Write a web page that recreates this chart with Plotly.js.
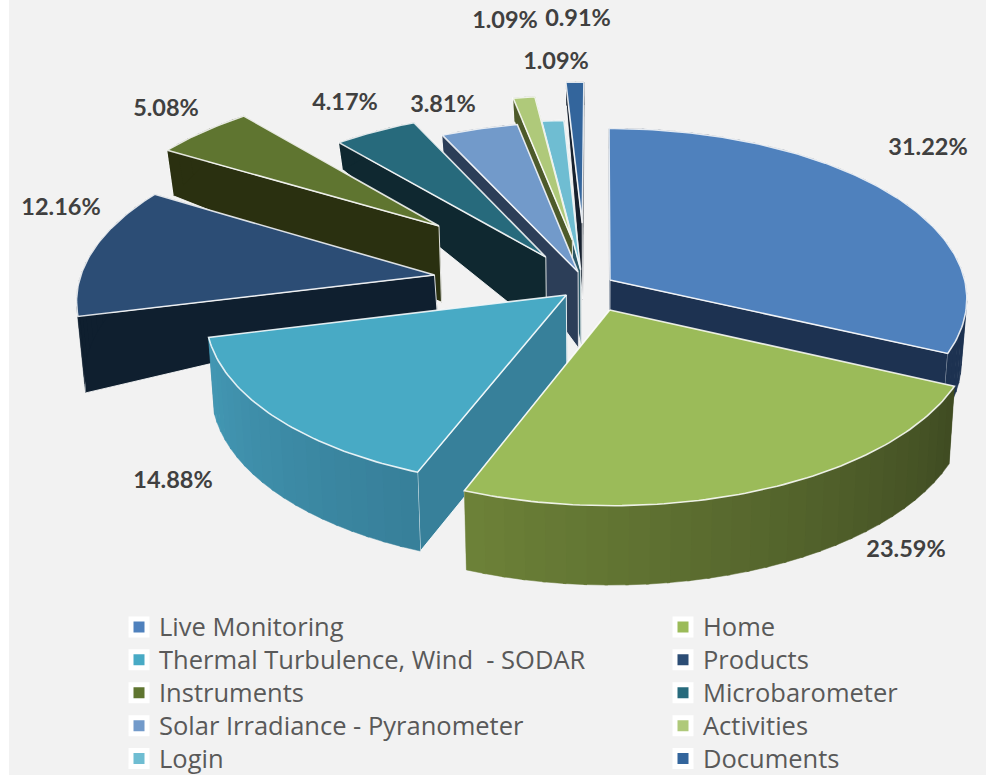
<!DOCTYPE html>
<html><head><meta charset="utf-8">
<script src="https://cdn.plot.ly/plotly-3.0.1.min.js"></script>
<style>html,body{margin:0;padding:0;background:#fff;overflow:hidden}#c{width:986px;height:775px}</style>
</head><body><div id="c"></div>
<script>
// ---- data ----
const categories = ["Live Monitoring","Home","Thermal Turbulence, Wind  - SODAR","Products","Instruments","Microbarometer","Solar Irradiance - Pyranometer","Activities","Login","Documents"];
const shares = [31.22,23.59,14.88,12.16,5.08,4.17,3.81,1.09,1.09,0.91];
const shareLabels = ["31.22%","23.59%","14.88%","12.16%","5.08%","4.17%","3.81%","1.09%","1.09%","0.91%"];

// ---- styling ----
const topColors  = ["#4f81bd","#9bbb59","#48aac5","#2c4d75","#5f7530","#276a7c","#729aca","#afc97a","#6fbdd2","#33659c"];
const wallColors = ["#1d3251","#3f4b22","#37809a","#0f1f2f","#2a3010","#0f2830","#2c3e58","#4d5a2a","#2c5a68","#16202e"];
const rimStart   = ["#1d3251","#3f4b22","#377f99","#0f1f2f","#2a3010","#0f2830","#2c3e58","#4d5a2a","#2c5a68","#16202e"];
const rimEnd     = ["#1d3251","#6d8238","#4398b4","#0f1f2f","#2a3010","#0f2830","#2c3e58","#4d5a2a","#2c5a68","#16202e"];
// ---- explosion of each slice in the pie's own plane, and wall scaling ----
const explodeX = [0.028,0.027,-0.094,-0.468,-0.47,-0.155,-0.062,-0.08,-0.055,-0.052];
const explodeY = [0.059,-0.116,-0.029,0.089,0.392,0.198,0.107,0.304,0.12,0.41];
const wallRim  = [0.83,1,1,1,1,0.7,1,1,1,1];
const wallApex = [1,1,1,0.47,1,1,1,1,1,1];
const drawOrder = [9,8,7,6,5,4,3,0,2,1];
// ---- label placement ----
const labelX = [928,906,173,61,166,345,443,505,556,578];
const labelY = [149,551,482,209,110,104,106,22,63,20];
// ---- view ----
const cx=600, cy=290, rx=357, ry=170, persp=0.108;

function project(X,Y){const w=1/(1+persp*Y);return [cx+X*rx*w, cy-Y*ry*w];}
function depth(Y){const u=Math.max(0,Y-0.4);return Math.max(23,76-120*u*u)+3*Math.max(0,-Y);}
function drop(X,Y,s){const p=project(X,Y);return [cx+(p[0]-cx)*0.985,p[1]+depth(Y)*s];}
function hex(c){return [1,3,5].map(i=>parseInt(c.substr(i,2),16));}
function mix(a,b,t){const A=hex(a),B=hex(b);return "rgb("+A.map((v,i)=>Math.round(v+(B[i]-v)*t)).join(",")+")";}
function poly(pts,fill,line,lw){return {type:"scatter",mode:"lines",x:pts.map(p=>p[0]),y:pts.map(p=>p[1]),fill:"toself",fillcolor:fill,
  line:{color:line||fill,width:line?(lw||1):0.5},showlegend:false,hoverinfo:"skip"};}

const total=shares.reduce((a,b)=>a+b,0);
let acc=0;const startA=[],endA=[];
shares.forEach(v=>{startA.push(acc/total*2*Math.PI);acc+=v;endA.push(acc/total*2*Math.PI);});

const traces=[];
const EDGE="rgba(255,255,255,0.85)";
drawOrder.forEach(i=>{
  const ox=explodeX[i],oy=explodeY[i],a0=startA[i],a1=endA[i];
  const P=t=>[ox+Math.sin(t),oy+Math.cos(t)];
  const wall=(t)=>{const r=P(t);return [project(ox,oy),project(r[0],r[1]),drop(r[0],r[1],wallRim[i]),drop(ox,oy,wallApex[i]),project(ox,oy)];};
  // the radial wall nearer the back first, so the nearer one hides it
  const walls=[a0,a1].sort((p,q)=>P(q)[1]-P(p)[1]);
  traces.push(poly(wall(walls[0]),wallColors[i]));
  traces.push(poly(wall(walls[1]),wallColors[i],EDGE,1));
  const n=Math.max(2,Math.ceil((a1-a0)/(Math.PI/60)));
  for(let k=0;k<n;k++){
    const t0=a0+(a1-a0)*k/n,t1=a0+(a1-a0)*(k+1.15)/n;const r0=P(t0),r1=P(Math.min(t1,a1));
    traces.push(poly([project(r0[0],r0[1]),project(r1[0],r1[1]),drop(r1[0],r1[1],wallRim[i]),drop(r0[0],r0[1],wallRim[i])],mix(rimStart[i],rimEnd[i],(k+0.5)/n)));
  }
  const top=[project(ox,oy)];
  for(let k=0;k<=n*3;k++){const r=P(a0+(a1-a0)*k/(n*3));top.push(project(r[0],r[1]));}
  top.push(project(ox,oy));
  traces.push(poly(top,topColors[i],EDGE,1.6));
});
// legend entries: two columns, one legend each
categories.forEach((c,i)=>traces.push({type:"scatter",mode:"markers",x:[null],y:[null],
  name:'<span style="font-size:25.5px">'+c+'</span>',legend:i%2?"legend2":"legend",
  marker:{symbol:"square",size:16,color:topColors[i],line:{color:"#ffffff",width:5}},hoverinfo:"skip",showlegend:true}));
// percentage labels
traces.push({type:"scatter",mode:"text",x:labelX,y:labelY,text:shareLabels,textposition:"middle center",
  textfont:{family:"Lato, 'Open Sans', sans-serif",size:23.5,color:"#404040",weight:700},showlegend:false,hoverinfo:"skip"});

const legendFont={family:"'Open Sans', sans-serif",size:23,color:"#595959"};
const layout={width:986,height:775,margin:{l:0,r:0,t:0,b:0,autoexpand:false},paper_bgcolor:"#ffffff",plot_bgcolor:"#f2f2f2",
  xaxis:{range:[0,986],visible:false,fixedrange:true},
  yaxis:{range:[775,0],visible:false,fixedrange:true},
  shapes:[{type:"rect",xref:"x",yref:"y",x0:0,x1:9,y0:0,y1:775,fillcolor:"#ffffff",line:{width:0},layer:"below"}],
  legend:{x:119/986,xanchor:"left",y:1-605.5/775,yanchor:"top",font:legendFont,bgcolor:"rgba(0,0,0,0)"},
  legend2:{x:663/986,xanchor:"left",y:1-605.5/775,yanchor:"top",font:legendFont,bgcolor:"rgba(0,0,0,0)"},
  showlegend:true};
Plotly.newPlot("c",traces,layout,{displayModeBar:false,staticPlot:true});
</script></body></html>
